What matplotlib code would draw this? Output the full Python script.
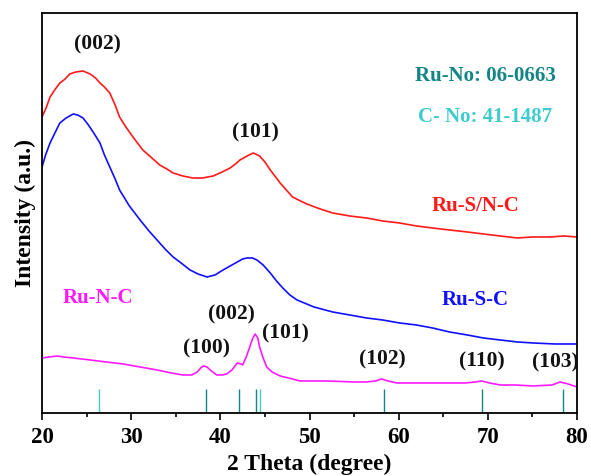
import matplotlib
matplotlib.use("Agg")
import matplotlib.pyplot as plt
from matplotlib.ticker import MultipleLocator

# XRD patterns (2 theta in degree, intensity in arbitrary units)
two_theta_rsnc = [20.0, 20.5, 20.9, 21.5, 22.0, 22.6, 23.1, 23.8, 24.6, 25.4, 26.0,
                  26.5, 27.0, 27.6, 28.2, 28.7, 29.4, 30.2, 31.3, 32.2, 33.2, 34.0,
                  34.7, 35.8, 36.9, 38.0, 39.2, 40.2, 41.1, 41.7, 42.2, 43.0, 43.7,
                  44.4, 45.0, 45.6, 46.2, 46.7, 47.4, 48.1, 49.0, 49.7, 51.2, 52.6,
                  54.5, 56.4, 58.2, 60.1, 62.0, 63.8, 65.7, 67.7, 69.5, 71.4, 73.3,
                  75.0, 77.0, 78.5, 80.0]
int_rsnc = [296, 306, 316, 324, 330, 334, 339, 341, 342, 339, 335,
            330, 326, 320, 308, 296, 286, 276, 263, 256, 248, 244,
            240, 237, 235, 235, 237, 241, 245, 249, 253, 257, 260,
            257, 251, 243, 236, 230, 223, 216, 212, 209, 204, 200,
            197, 195, 192, 190, 187, 185, 183, 181, 179, 177, 175,
            176, 176, 177, 176]

two_theta_rsc = [20.0, 20.4, 20.9, 21.5, 22.0, 22.7, 23.5, 24.0, 24.6, 25.2, 25.8,
                 26.5, 27.0, 27.6, 28.2, 28.7, 29.8, 31.0, 32.0, 32.9, 33.8, 34.7,
                 35.6, 36.6, 37.5, 38.5, 39.4, 40.3, 41.1, 41.9, 42.5, 43.0, 43.6,
                 44.1, 44.8, 45.6, 46.3, 47.0, 47.8, 48.6, 50.5, 52.6, 54.5, 56.4,
                 58.2, 60.1, 62.0, 63.8, 65.7, 67.7, 69.5, 71.4, 73.3, 75.1, 77.5,
                 80.0]
int_rsc = [246, 258, 270, 281, 290, 295, 299, 298, 295, 288, 280,
           270, 258, 246, 234, 223, 207, 193, 182, 173, 164, 156,
           150, 143, 139, 136, 138, 143, 147, 151, 154, 155, 155,
           153, 148, 140, 132, 125, 118, 113, 106, 101, 98, 95,
           93, 90, 88, 85, 81, 78, 75, 73, 71, 70, 69,
           69]

two_theta_rnc = [20.0, 20.8, 21.7, 22.4, 23.5, 25.4, 27.2, 29.1, 31.0, 32.9, 34.5,
                 35.8, 36.8, 37.4, 37.8, 38.1, 38.5, 39.0, 39.6, 40.2, 40.7, 41.3,
                 41.9, 42.3, 42.5, 42.9, 43.3, 43.6, 43.9, 44.2, 44.4, 44.8, 45.2,
                 45.8, 46.7, 48.1, 48.9, 52.0, 55.0, 56.4, 57.4, 58.1, 58.8, 59.8,
                 62.0, 65.8, 67.5, 68.6, 69.3, 70.2, 71.4, 73.0, 75.1, 77.2, 78.1,
                 79.0, 80.0]
int_rnc = [55, 56, 57, 56, 55, 53, 51, 49, 46, 43, 40,
           38, 38, 41, 45, 47, 46, 42, 38, 38, 39, 43,
           50, 49, 48, 56, 66, 74, 79, 75, 66, 55, 46,
           41, 37, 34, 32, 32, 31, 31, 32, 34, 32, 30,
           30, 30, 30, 31, 32, 30, 28, 28, 27, 28, 31,
           29, 26]

# standard reference lines
ru_pdf = [38.4, 42.1, 44.0, 58.3, 69.4, 78.4]
c_pdf = [26.4, 44.4]
stick_height = 24

peak_labels = [("(002)", 26.2, 369), ("(101)", 43.9, 281),
               ("(100)", 38.4, 64), ("(002)", 41.2, 98), ("(101)", 47.3, 79),
               ("(102)", 58.2, 53), ("(110)", 69.3, 51), ("(103)", 77.6, 50)]

plt.rcParams["font.family"] = ["Liberation Serif", "DejaVu Serif"]
plt.rcParams["font.weight"] = "bold"

fig = plt.figure(figsize=(5.91, 4.76), dpi=100)
ax = fig.add_axes([0.0711, 0.1324, 0.9052, 0.8403])

ax.plot(two_theta_rsnc, int_rsnc, color="#ff1a1a", lw=1.2)
ax.plot(two_theta_rsc, int_rsc, color="#1010ff", lw=1.2)
ax.plot(two_theta_rnc, int_rnc, color="#ff1aff", lw=1.2)

ax.vlines(ru_pdf, 0, stick_height, color="#138585", lw=1.0)
ax.vlines(c_pdf, 0, stick_height, color="#40cccc", lw=1.0)

for txt, x, y in peak_labels:
    ax.text(x, y, txt, ha="center", va="center", fontsize=15.5, fontweight="bold",
            color="#111111")

ax.text(69.7, 337, "Ru-No: 06-0663", ha="center", va="center", fontsize=15,
        fontweight="bold", color="#138585")
ax.text(69.7, 296, "C- No: 41-1487", ha="center", va="center", fontsize=15,
        fontweight="bold", color="#40cccc")
ax.text(68.6, 207, "Ru-S/N-C", ha="center", va="center", fontsize=15,
        fontweight="bold", color="#ff1a1a")
ax.text(68.6, 113, "Ru-S-C", ha="center", va="center", fontsize=15,
        fontweight="bold", color="#1010ff")
ax.text(26.3, 115, "Ru-N-C", ha="center", va="center", fontsize=15,
        fontweight="bold", color="#ff1aff")

ax.set_xlim(20, 80)
ax.set_ylim(0, 400)
ax.xaxis.set_major_locator(MultipleLocator(10))
ax.xaxis.set_minor_locator(MultipleLocator(5))
ax.tick_params(axis="x", which="major", direction="out", length=5, width=1.2,
               labelsize=16.5, pad=5)
ax.tick_params(axis="x", which="minor", direction="out", length=3, width=1.2)
ax.set_yticks([])
for lab in ax.get_xticklabels():
    lab.set_fontweight("bold")
for sp in ax.spines.values():
    sp.set_linewidth(1.3)

ax.set_xlabel("2 Theta (degree)", fontsize=17, fontweight="bold", labelpad=4)
ax.set_ylabel("Intensity (a.u.)", fontsize=17, fontweight="bold", labelpad=4)

fig.savefig("out.png", dpi=100)
